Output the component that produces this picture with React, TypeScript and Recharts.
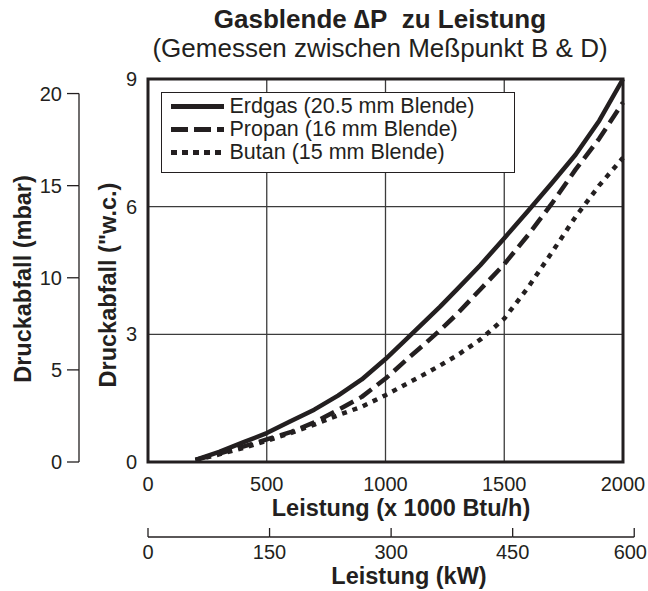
import React from 'react';
import { LineChart, Line, XAxis, YAxis, CartesianGrid, ReferenceArea, Legend } from 'recharts';

// ---- data ----
const leistung = [200, 300, 400, 500, 600, 700, 800, 900, 1000, 1100, 1170, 1230, 1300, 1400, 1500, 1600, 1700, 1800, 1900, 2000];
const erdgas = [0.05, 0.24, 0.46, 0.68, 0.96, 1.23, 1.56, 1.94, 2.42, 2.95, 3.33, 3.65, 4.05, 4.63, 5.26, 5.9, 6.55, 7.22, 8.02, 9.0];
const propan = [0.05, 0.2, 0.36, 0.53, 0.7, 0.93, 1.22, 1.53, 1.96, 2.46, 2.8, 3.1, 3.47, 4.06, 4.65, 5.33, 6.07, 6.87, 7.6, 8.45];
const butan = [0.04, 0.18, 0.33, 0.5, 0.68, 0.88, 1.1, 1.3, 1.57, 1.87, 2.08, 2.27, 2.5, 2.88, 3.37, 4.1, 4.92, 5.76, 6.5, 7.15];

const btuTicks = [0, 500, 1000, 1500, 2000];
const inchTicks = [0, 3, 6, 9];
const mbarTicks = [0, 5, 10, 15, 20];
const kwTicks = [0, 150, 300, 450, 600];

const seriesKeys = ['erdgas', 'propan', 'butan'];
const seriesNames = ['Erdgas (20.5 mm Blende)', 'Propan (16 mm Blende)', 'Butan (15 mm Blende)'];

const KW_PER_KBTU = 0.29307107;
const data = leistung.map((x, i) => ({ x, kw: x * KW_PER_KBTU, erdgas: erdgas[i], propan: propan[i], butan: butan[i] }));

// ---- layout / style ----
const W = 648;
const H = 591;
const MARGIN = { top: 79, right: 25, bottom: 0, left: 0 };
const MBAR_W = 79;
const INCH_W = 69;
const BTU_H = 75;
const KW_H = 54;
const PLOT_W = W - MARGIN.left - MARGIN.right - MBAR_W - INCH_W;
const PLOT_H = H - MARGIN.top - MARGIN.bottom - BTU_H - KW_H;
const KW_MAX = 2000 * KW_PER_KBTU;
const MBAR_MAX = 20.79;
const PX_PER_KW = PLOT_W / KW_MAX;
const PX_PER_MBAR = PLOT_H / MBAR_MAX;

const FONT = '"Liberation Sans", Arial, Helvetica, sans-serif';
const INK = '#231f20';
const GRID = '#3c3c3c';

const dashes = [undefined, '15 7', '5 6'];
const legendDashes = [undefined, '17 6', '6 5'];

const MbarTick = (props: any) => {
  const { x, y, payload } = props;
  const v = payload.value;
  return (
    <g>
      <line x1={x + 5} x2={x + 17} y1={y} y2={y} stroke={INK} strokeWidth={1.3} />
      {v > 0 && (
        <line x1={x + 17} x2={x + 17} y1={y} y2={y + 5 * PX_PER_MBAR} stroke={INK} strokeWidth={1.3} />
      )}
      <text x={x} y={y} dy="0.355em" textAnchor="end" fontSize={20} fill={INK} fontFamily={FONT}>
        {v}
      </text>
    </g>
  );
};

const KwTick = (props: any) => {
  const { x, y, payload } = props;
  const v = payload.value;
  const overflow = x + 17 > W;
  return (
    <g>
      <line x1={x} x2={x} y1={y - 9} y2={y} stroke={INK} strokeWidth={1.3} />
      {v > 0 && (
        <line x1={x - 150 * PX_PER_KW} x2={x} y1={y} y2={y} stroke={INK} strokeWidth={1.3} />
      )}
      <text
        x={overflow ? W - 1 : x}
        y={y + 22}
        textAnchor={overflow ? 'end' : 'middle'}
        fontSize={20}
        fill={INK}
        fontFamily={FONT}
      >
        {v}
      </text>
    </g>
  );
};

const xTitle = (text: string, dx: number, dy: number) => (props: any) => {
  const vb = props.viewBox || {};
  return (
    <text
      x={vb.x + vb.width / 2 + dx}
      y={vb.y + dy}
      textAnchor="middle"
      fontSize={23.5}
      fontWeight="bold"
      fill={INK}
      fontFamily={FONT}
    >
      {text}
    </text>
  );
};

const yTitle = (text: string, dx: number, dy: number) => (props: any) => {
  const vb = props.viewBox || {};
  const cx = vb.x + dx;
  const cy = vb.y + vb.height / 2 + dy;
  return (
    <text
      x={cx}
      y={cy}
      transform={`rotate(-90 ${cx} ${cy})`}
      textAnchor="middle"
      dominantBaseline="central"
      fontSize={23.5}
      fontWeight="bold"
      fill={INK}
      fontFamily={FONT}
    >
      {text}
    </text>
  );
};

const LegendBox = () => (
  <div
    style={{
      position: 'relative',
      width: 354,
      height: 81,
      boxSizing: 'border-box',
      border: `1.5px solid ${INK}`,
      background: '#fff',
      fontFamily: FONT,
      color: INK,
    }}
  >
    {seriesNames.map((name, i) => (
      <div key={name} style={{ position: 'absolute', left: 0, top: 15 + i * 23 - 11.5 - 1.5, height: 23, width: '100%' }}>
        <svg width={56} height={23} style={{ position: 'absolute', left: 7.5, top: 0 }}>
          <line x1={1} x2={54} y1={11.5} y2={11.5} stroke={INK} strokeWidth={5} strokeDasharray={legendDashes[i]} />
        </svg>
        <span style={{ position: 'absolute', left: 67.5, top: 0, lineHeight: '23px', fontSize: 21.5, whiteSpace: 'nowrap' }}>
          {name}
        </span>
      </div>
    ))}
  </div>
);

export default function App() {
  return (
    <div style={{ position: 'absolute', left: 0, top: 0, width: W, height: H, background: '#fff', fontFamily: FONT }}>
      <div
        style={{
          position: 'absolute', left: 80, top: 6, width: 600, textAlign: 'center',
          fontSize: 26, fontWeight: 'bold', lineHeight: '1', color: INK, whiteSpace: 'nowrap',
        }}
      >
        Gasblende ∆P&nbsp; zu Leistung
      </div>
      <div
        style={{
          position: 'absolute', left: 80, top: 35, width: 600, textAlign: 'center',
          fontSize: 26, lineHeight: '1', color: INK, whiteSpace: 'nowrap',
        }}
      >
        (Gemessen zwischen Meßpunkt B &amp; D)
      </div>
      <div style={{ position: 'absolute', left: 0, top: 0 }}>
        <LineChart width={W} height={H} data={data} margin={MARGIN}>
          <CartesianGrid xAxisId="btu" yAxisId="in" stroke={GRID} strokeWidth={1.3} />
          <XAxis
            xAxisId="btu"
            type="number"
            dataKey="x"
            domain={[0, 2000]}
            ticks={btuTicks}
            interval={0}
            height={BTU_H}
            axisLine={false}
            tickLine={false}
            tickSize={0}
            tickMargin={15}
            tick={{ fontSize: 20, fill: INK, fontFamily: FONT }}
            label={xTitle('Leistung (x 1000 Btu/h)', 15.5, 54)}
          />
          <XAxis
            xAxisId="kw"
            type="number"
            dataKey="kw"
            domain={[0, KW_MAX]}
            allowDataOverflow
            ticks={kwTicks}
            interval={0}
            height={KW_H}
            axisLine={false}
            tickLine={false}
            tickSize={0}
            tickMargin={0}
            tick={<KwTick />}
            label={xTitle('Leistung (kW)', 23.5, 47)}
          />
          <YAxis
            yAxisId="in"
            type="number"
            domain={[0, 9]}
            ticks={inchTicks}
            interval={0}
            width={INCH_W}
            axisLine={false}
            tickLine={false}
            tickSize={0}
            tickMargin={11}
            tick={{ fontSize: 20, fill: INK, fontFamily: FONT }}
            label={yTitle('Druckabfall ("w.c.)', 28.5, 14.5)}
          />
          <YAxis
            yAxisId="mbar"
            type="number"
            domain={[0, MBAR_MAX]}
            allowDataOverflow
            ticks={mbarTicks}
            interval={0}
            width={MBAR_W}
            axisLine={false}
            tickLine={false}
            tickSize={12}
            tickMargin={5}
            tick={<MbarTick />}
            label={yTitle('Druckabfall (mbar)', 22.5, 8.5)}
          />
          <ReferenceArea
            xAxisId="btu"
            yAxisId="in"
            x1={0}
            x2={2000}
            y1={0}
            y2={9}
            fill="none"
            fillOpacity={0}
            stroke={INK}
            strokeWidth={3}
            strokeOpacity={1}
            ifOverflow="visible"
          />
          {seriesKeys.map((k, i) => (
            <Line
              key={k}
              xAxisId="btu"
              yAxisId="in"
              type="linear"
              dataKey={k}
              name={seriesNames[i]}
              stroke={INK}
              strokeWidth={4.5}
              strokeDasharray={dashes[i]}
              strokeLinejoin="round"
              dot={false}
              activeDot={false}
              isAnimationActive={false}
            />
          ))}
          <Legend
            layout="vertical"
            align="center"
            verticalAlign="middle"
            wrapperStyle={{ left: 161, top: 92, width: 354, height: 81 }}
            content={() => <LegendBox />}
          />
        </LineChart>
      </div>
    </div>
  );
}
